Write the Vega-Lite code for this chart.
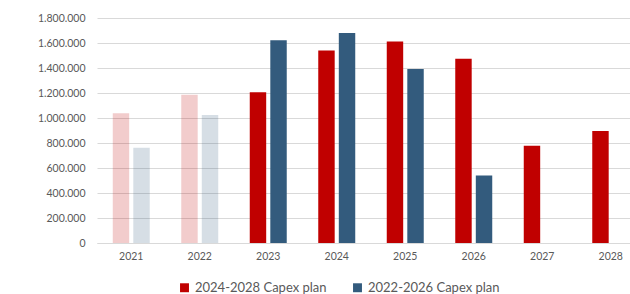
{
  "$schema": "https://vega.github.io/schema/vega-lite/v6.json",
  "width": 533,
  "height": 225,
  "autosize": {"type": "none"},
  "padding": {"left": 97, "top": 18, "right": 0, "bottom": 51},
  "background": "white",
  "data": {
    "values": [
      {"year": "2021", "series": "2024-2028 Capex plan", "value": 1038000},
      {"year": "2021", "series": "2022-2026 Capex plan", "value": 763000},
      {"year": "2022", "series": "2024-2028 Capex plan", "value": 1186000},
      {"year": "2022", "series": "2022-2026 Capex plan", "value": 1025000},
      {"year": "2023", "series": "2024-2028 Capex plan", "value": 1206000},
      {"year": "2023", "series": "2022-2026 Capex plan", "value": 1622000},
      {"year": "2024", "series": "2024-2028 Capex plan", "value": 1541000},
      {"year": "2024", "series": "2022-2026 Capex plan", "value": 1680000},
      {"year": "2025", "series": "2024-2028 Capex plan", "value": 1613000},
      {"year": "2025", "series": "2022-2026 Capex plan", "value": 1392000},
      {"year": "2026", "series": "2024-2028 Capex plan", "value": 1475000},
      {"year": "2026", "series": "2022-2026 Capex plan", "value": 541000},
      {"year": "2027", "series": "2024-2028 Capex plan", "value": 779000},
      {"year": "2028", "series": "2024-2028 Capex plan", "value": 896000}
    ]
  },
  "mark": {"type": "bar"},
  "encoding": {
    "x": {
      "field": "year",
      "type": "ordinal",
      "scale": {"range": [0, 548], "paddingInner": 0.46, "paddingOuter": 0.23},
      "axis": {
        "title": null,
        "labelAngle": 0,
        "ticks": false,
        "domainColor": "#D9D9D9",
        "domainWidth": 1,
        "labelPadding": 8,
        "labelFont": "Lato",
        "labelFontSize": 10.5,
        "labelColor": "#595959"
      }
    },
    "xOffset": {
      "field": "series",
      "type": "nominal",
      "sort": ["2024-2028 Capex plan", "2022-2026 Capex plan"],
      "scale": {"paddingInner": 0.2, "paddingOuter": 0}
    },
    "y": {
      "field": "value",
      "type": "quantitative",
      "scale": {"domain": [0, 1800000], "nice": false},
      "axis": {
        "title": null,
        "values": [0, 200000, 400000, 600000, 800000, 1000000, 1200000, 1400000, 1600000, 1800000],
        "format": ",d",
        "labelOverlap": false,
        "labelBound": false,
        "labelFlush": false,
        "domain": false,
        "ticks": false,
        "labelPadding": 12,
        "gridColor": "#D9D9D9",
        "gridWidth": 1,
        "labelFont": "Lato",
        "labelFontSize": 10.5,
        "labelColor": "#595959"
      }
    },
    "color": {
      "field": "series",
      "type": "nominal",
      "scale": {
        "domain": ["2024-2028 Capex plan", "2022-2026 Capex plan"],
        "range": ["#C00000", "#335B7D"]
      },
      "legend": {
        "title": null,
        "orient": "none",
        "direction": "horizontal",
        "legendX": 81,
        "legendY": 263,
        "symbolType": "square",
        "symbolSize": 80,
        "symbolStrokeWidth": 0,
        "symbolOpacity": 1,
        "labelFont": "Lato",
        "labelFontSize": 13,
        "labelColor": "#595959",
        "labelOffset": 4,
        "columnPadding": 24
      }
    },
    "opacity": {
      "condition": {"test": "toNumber(datum.year) < 2023", "value": 0.2},
      "value": 1
    }
  },
  "config": {
    "view": {"stroke": null},
    "locale": {
      "number": {"decimal": ",", "thousands": ".", "grouping": [3], "currency": ["", " €"]}
    }
  }
}
